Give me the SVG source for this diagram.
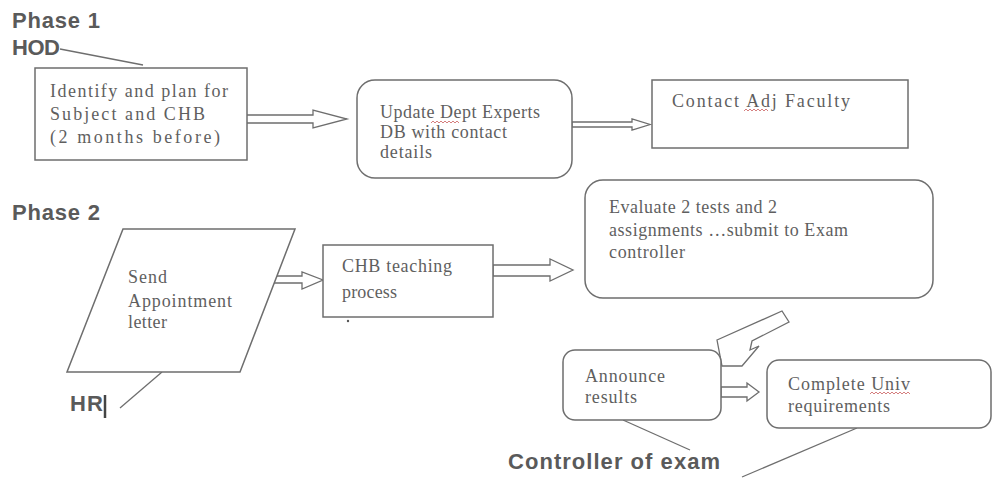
<svg xmlns="http://www.w3.org/2000/svg" width="995" height="478" viewBox="0 0 995 478">
  <style>
    .box { fill: #ffffff; stroke: #6e6e6e; stroke-width: 1.5; }
    .lbl { font-family: "Liberation Serif", "Times New Roman", serif; font-size: 18px; fill: #5f5f5f; }
    .head { font-family: "Liberation Sans", Arial, sans-serif; font-weight: bold; font-size: 22px; fill: #5a5a5a; }
    .arrow { fill: #ffffff; stroke: #6e6e6e; stroke-width: 1.3; stroke-linejoin: miter; }
    .leader { fill: none; stroke: #6e6e6e; stroke-width: 1.3; }
    .squig { fill: none; stroke: #d07070; stroke-width: 0.9; }
  </style>
  <rect width="995" height="478" fill="#ffffff"/>

  <!-- Headings and role labels -->
  <g id="headings">
    <text class="head" x="12" y="28" textLength="88">Phase 1</text>
    <text class="head" x="12" y="55" textLength="48">HOD</text>
    <text class="head" x="12" y="220" textLength="88">Phase 2</text>
    <text class="head" x="70" y="411" font-weight="normal" textLength="33">HR</text>
    <line x1="105" y1="395" x2="105" y2="418" stroke="#444" stroke-width="2.5"/>
    <text class="head" x="508" y="469" textLength="212">Controller of exam</text>
  </g>

  <!-- Connectors: block arrows and leader lines -->
  <g id="connectors">
    <polygon class="arrow" points="213,115 313,115 313,110 347,119 313,128 313,123 213,123"/>
    <polygon class="arrow" points="572,122 632,122 632,119 650,124.5 632,130 632,127 572,127"/>
    <polygon class="arrow" points="242,276 302,276 302,272 323,280 302,289 302,283 242,283"/>
    <polygon class="arrow" points="493,265 550,265 550,259 573,270 550,281 550,276 493,276"/>
    <polygon class="arrow" points="721,387 747,387 747,383 759,392 747,401 747,397 721,397"/>
    <polygon class="arrow" points="717,340 782,311 789,322 752,341 750,350 759,346 742,366 722,366"/>
    <line class="leader" x1="60" y1="49" x2="143" y2="65"/>
    <line class="leader" x1="162" y1="372" x2="120" y2="408"/>
    <line class="leader" x1="623" y1="420" x2="690" y2="450"/>
    <line class="leader" x1="857" y1="428" x2="742" y2="477"/>
  </g>

  <g id="identify-plan">
    <rect class="box" x="35" y="68" width="212" height="92"/>
    <text class="lbl" x="50" y="97" textLength="178">Identify and plan for</text>
    <text class="lbl" x="50" y="120" textLength="155">Subject and CHB</text>
    <text class="lbl" x="50" y="143" textLength="170">(2 months before)</text>
  </g>

  <g id="update-db">
    <rect class="box" x="357" y="80" width="215" height="98" rx="18"/>
    <text class="lbl" x="380" y="118" textLength="160">Update Dept Experts</text>
    <text class="lbl" x="380" y="138" textLength="127">DB with contact</text>
    <text class="lbl" x="380" y="158" textLength="52">details</text>
    <path class="squig" d="M431,123 l2,-2 l2,2 l2,-2 l2,2 l2,-2 l2,2 l2,-2 l2,2 l2,-2 l2,2 l2,-2 l2,2 l2,-2 l2,2"/>
  </g>

  <g id="contact-adj">
    <rect class="box" x="652" y="80" width="256" height="68"/>
    <text class="lbl" x="672" y="107" textLength="178">Contact Adj Faculty</text>
    <path class="squig" d="M744,111 l2,-2 l2,2 l2,-2 l2,2 l2,-2 l2,2 l2,-2 l2,2 l2,-2 l2,2 l2,-2 l2,2"/>
  </g>

  <g id="send-appointment">
    <polygon class="box" points="123,229 295,229 240,372 67,372"/>
    <text class="lbl" x="128" y="283" textLength="39">Send</text>
    <text class="lbl" x="128" y="307" textLength="104">Appointment</text>
    <text class="lbl" x="128" y="328" textLength="39">letter</text>
  </g>

  <g id="chb-teaching">
    <rect class="box" x="323" y="245" width="170" height="72"/>
    <text class="lbl" x="342" y="272" textLength="110">CHB teaching</text>
    <text class="lbl" x="342" y="298" textLength="55">process</text>
    <circle cx="348" cy="321" r="1.2" fill="#555"/>
  </g>

  <g id="evaluate">
    <rect class="box" x="585" y="180" width="348" height="118" rx="18"/>
    <text class="lbl" x="609" y="213" textLength="168">Evaluate 2 tests and 2</text>
    <text class="lbl" x="609" y="236" textLength="239">assignments …submit to Exam</text>
    <text class="lbl" x="609" y="258" textLength="76">controller</text>
  </g>

  <g id="announce">
    <rect class="box" x="563" y="350" width="158" height="70" rx="12"/>
    <text class="lbl" x="585" y="382" textLength="80">Announce</text>
    <text class="lbl" x="585" y="403" textLength="52">results</text>
  </g>

  <g id="complete-univ">
    <rect class="box" x="767" y="360" width="224" height="68" rx="12"/>
    <text class="lbl" x="788" y="390" textLength="122">Complete Univ</text>
    <text class="lbl" x="788" y="412" textLength="102">requirements</text>
    <path class="squig" d="M870,394 l2,-2 l2,2 l2,-2 l2,2 l2,-2 l2,2 l2,-2 l2,2 l2,-2 l2,2 l2,-2 l2,2 l2,-2 l2,2 l2,-2 l2,2 l2,-2 l2,2 l2,-2 l2,2"/>
  </g>
</svg>
